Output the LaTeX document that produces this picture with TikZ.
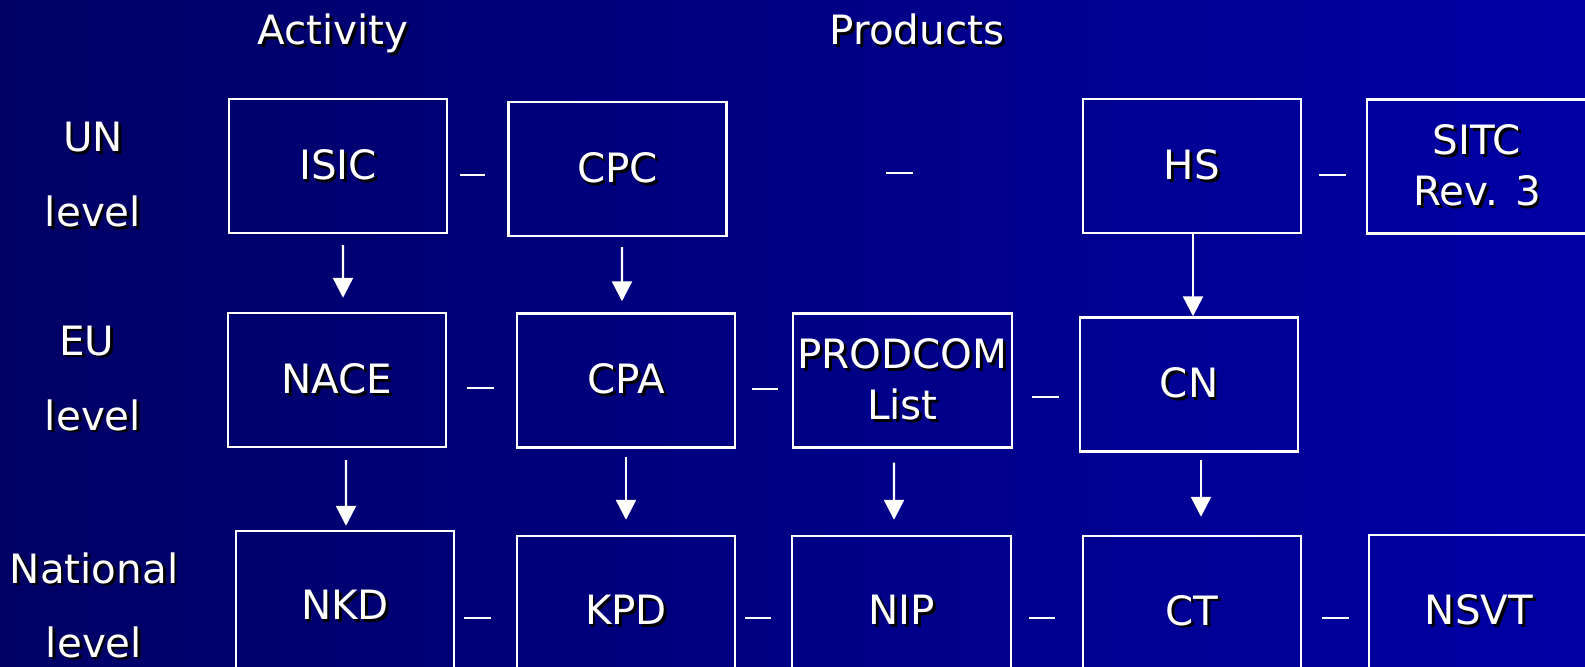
\documentclass[tikz,border=0pt]{standalone}
\usepackage{fontspec}
\setmainfont{DejaVu Sans}
\usetikzlibrary{arrows.meta}
\definecolor{bgleft}{RGB}{0,0,100}
\definecolor{bgright}{RGB}{0,0,165}
\newcommand\shd[1]{\makebox[0pt][l]{\hspace{0.07em}\raisebox{-0.07em}{\color{black}#1}}#1}
\tikzset{
  every node/.style={text=white, font=\fontsize{11.5}{14.5}\selectfont},
  cls/.style={draw=white, line width=0.7pt, minimum width=2.18cm, minimum height=1.34cm, inner sep=0pt, align=center},
  low/.style={cls, minimum height=1.6cm},
  lab/.style={inner sep=0pt, anchor=base},
  arr/.style={draw=white, line width=0.7pt, -{Triangle[width=0.2cm,length=0.2cm]}},
  dashline/.style={draw=white, line width=0.7pt}
}
\begin{document}
\begin{tikzpicture}
\shade[left color=bgleft, right color=bgright] (0,0) rectangle (15.85,-6.67);
\useasboundingbox (0,0) rectangle (15.85,-6.67);

% column/row labels
\node[lab] (activity) at (3.33,-0.45) {\shd{Activity}};
\node[lab] (products) at (9.17,-0.45) {\shd{Products}};
\node[lab] (un) at (0.93,-1.52) {\shd{UN}};
\node[lab] (unl) at (0.93,-2.27) {\shd{level}};
\node[lab] (eu) at (0.87,-3.55) {\shd{EU}};
\node[lab] (eul) at (0.93,-4.30) {\shd{level}};
\node[lab] (nat) at (0.94,-5.83) {\shd{National}};
\node[lab] (natl) at (0.94,-6.57) {\shd{level}};

% UN level
\node[cls] (isic) at (3.38,-1.66) {\shd{ISIC}};
\node[cls] (cpc) at (6.175,-1.69) {\shd{CPC}};
\node[cls] (hs) at (11.92,-1.66) {\shd{HS}};
\node[cls, minimum width=2.2cm] (sitc) at (14.77,-1.665) {\shd{SITC}\\\shd{Rev. 3}};

% EU level
\node[cls] (nace) at (3.37,-3.80) {\shd{NACE}};
\node[cls] (cpa) at (6.26,-3.805) {\shd{CPA}};
\node[cls, minimum width=2.19cm] (prodcom) at (9.025,-3.805) {\shd{PRODCOM}\\\shd{List}};
\node[cls] (cn) at (11.89,-3.845) {\shd{CN}};

% National level
\node[low] (nkd) at (3.45,-6.11) {\raisebox{0.13cm}{\shd{NKD}}};
\node[low] (kpd) at (6.26,-6.16) {\raisebox{0.12cm}{\shd{KPD}}};
\node[low, minimum width=2.19cm] (nip) at (9.015,-6.16) {\raisebox{0.12cm}{\shd{NIP}}};
\node[low] (ct) at (11.92,-6.16) {\raisebox{0.12cm}{\shd{CT}}};
\node[low, minimum width=2.2cm] (nsvt) at (14.79,-6.15) {\raisebox{0.11cm}{\shd{NSVT}}};

% arrows
\draw[arr, shorten <=0.11cm, shorten >=0.14cm] ([xshift=0.05cm]isic.south) -- ([xshift=0.06cm]nace.north);
\draw[arr, shorten <=0.10cm, shorten >=0.11cm] ([xshift=0.045cm]cpc.south) -- ([xshift=-0.04cm]cpa.north);
\draw[arr] ([xshift=0.01cm]hs.south) -- ([xshift=0.04cm]cn.north);
\draw[arr, shorten <=0.12cm, shorten >=0.04cm] ([xshift=0.09cm]nace.south) -- ([xshift=0.01cm]nkd.north);
\draw[arr, shorten <=0.08cm, shorten >=0.15cm] (cpa.south) -- (kpd.north);
\draw[arr, shorten <=0.14cm, shorten >=0.15cm] ([xshift=-0.085cm]prodcom.south) -- ([xshift=-0.075cm]nip.north);
\draw[arr, shorten <=0.07cm, shorten >=0.18cm] ([xshift=0.12cm]cn.south) -- ([xshift=0.09cm]ct.north);

% dashes between boxes
\draw[dashline] (4.60,-1.75) -- (4.85,-1.75);
\draw[dashline] (8.86,-1.73) -- (9.13,-1.73);
\draw[dashline] (13.19,-1.75) -- (13.46,-1.75);
\draw[dashline] (4.67,-3.88) -- (4.94,-3.88);
\draw[dashline] (7.52,-3.89) -- (7.78,-3.89);
\draw[dashline] (10.32,-3.97) -- (10.59,-3.97);
\draw[dashline] (4.64,-6.18) -- (4.91,-6.18);
\draw[dashline] (7.45,-6.18) -- (7.71,-6.18);
\draw[dashline] (10.29,-6.18) -- (10.55,-6.18);
\draw[dashline] (13.22,-6.18) -- (13.49,-6.18);
\end{tikzpicture}
\end{document}
